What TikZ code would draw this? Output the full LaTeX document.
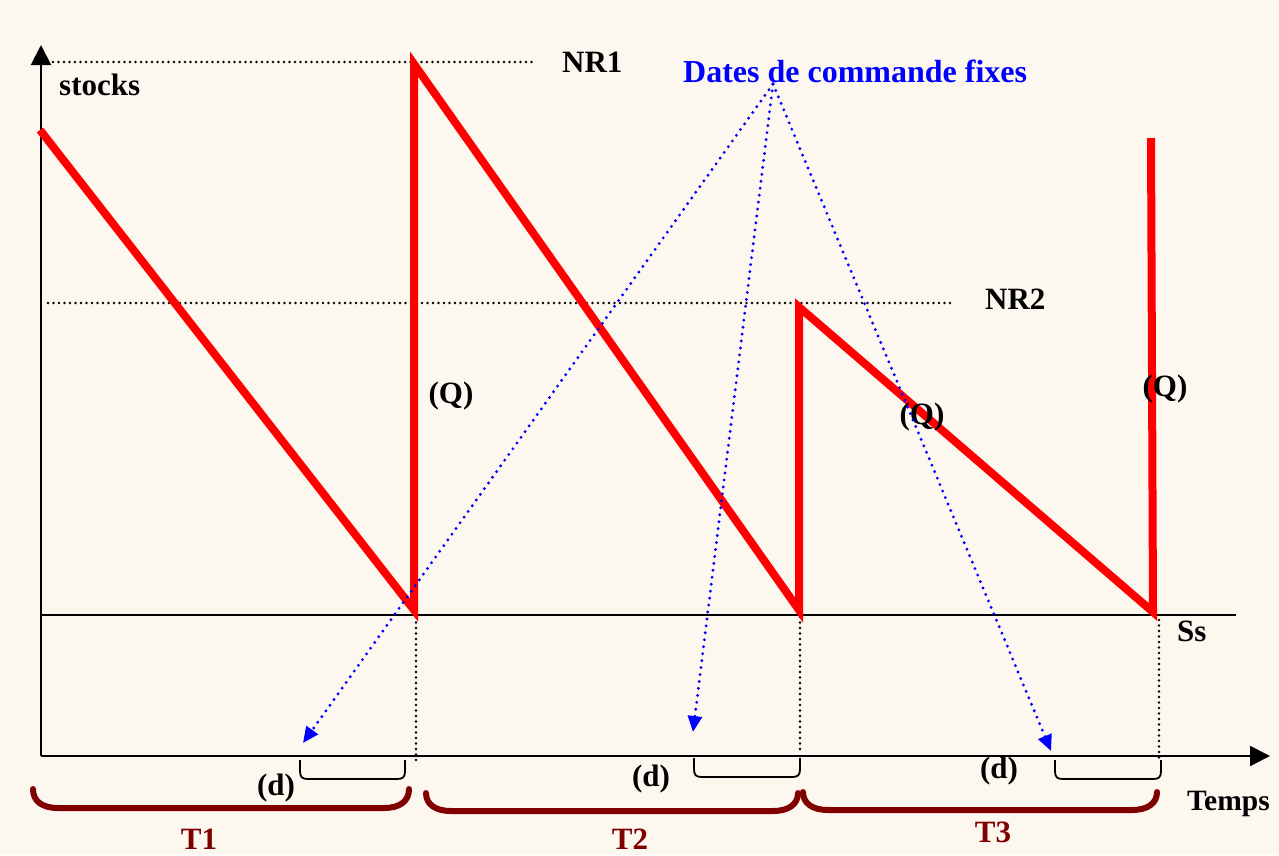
\documentclass[tikz,border=0pt]{standalone}
\usepackage{fontspec}
\setmainfont{Liberation Serif}
\usetikzlibrary{arrows.meta}
\definecolor{bg}{RGB}{252,248,240}
\definecolor{bracered}{RGB}{128,0,0}
\definecolor{stockred}{RGB}{255,0,0}
\definecolor{dateblue}{RGB}{0,0,255}
\begin{document}
\begin{tikzpicture}[x=1pt,y=-1pt,
  lbl/.style={font=\fontsize{31}{36}\selectfont\bfseries, inner sep=0pt},
  axis/.style={line width=2pt, -{Triangle[length=20pt,width=20pt]}},
  blackline/.style={line width=1.8pt},
  blackdots/.style={line width=2.6pt, line cap=round, dash pattern=on 0pt off 5.5pt},
  bluedots/.style={line width=3.2pt, line cap=round, dash pattern=on 0pt off 7pt, dateblue, -{Triangle[length=16pt,width=14pt]}},
  stockline/.style={line width=8pt, stockred, line join=miter},
  dbracket/.style={line width=1.8pt},
  bigbrace/.style={line width=6pt, bracered, line cap=round},
]
\fill[bg] (0,0) rectangle (1279,855);
\useasboundingbox (0,0) rectangle (1279,855);

% coordinates
\coordinate (origin) at (41,756);
\coordinate (ytip) at (41,45);
\coordinate (xtip) at (1270,756);
\coordinate (ssL) at (41,615);
\coordinate (ssR) at (1236,615);
\coordinate (nr1L) at (53,62);
\coordinate (nr1R) at (534,62);
\coordinate (nr2L) at (48,303);
\coordinate (nr2R) at (953,303);

% axes
\draw[axis] (origin) -- (ytip);
\draw[axis] (origin) -- (xtip);
\draw[blackline] (ssL) -- (ssR);

% dotted reference lines
\draw[blackdots] (nr1L) -- (nr1R);
\draw[blackdots] (nr2L) -- (nr2R);
\coordinate (v1a) at (416,617); \coordinate (v1b) at (416,760);
\coordinate (v2a) at (800,617); \coordinate (v2b) at (800,752);
\coordinate (v3a) at (1159,620); \coordinate (v3b) at (1159,762);
\draw[blackdots] (v1a) -- (v1b);
\draw[blackdots] (v2a) -- (v2b);
\draw[blackdots] (v3a) -- (v3b);

% stock curve
\coordinate (s0) at (40,130);
\coordinate (s1) at (414,610);
\coordinate (s2) at (414,64);
\coordinate (s3) at (799,610);
\coordinate (s4) at (799,307);
\coordinate (s5) at (1153,612);
\coordinate (s6) at (1151,138);
\draw[stockline] (s0) -- (s1) -- (s2) -- (s3) -- (s4) -- (s5) -- (s6);

% labels
\node[lbl, anchor=base west] (stocks) at (59,95) {stocks};
\node[lbl, anchor=base west] (nr1) at (562,72) {NR1};
\node[lbl, anchor=base west] (nr2) at (985,309) {NR2};
\node[lbl, anchor=base west] (ss) at (1177,641) {Ss};
\node[lbl, anchor=base west, font=\fontsize{29.5}{34}\selectfont\bfseries] (temps) at (1187,810) {Temps};
\node[lbl] (q1) at (451,396) {(Q)};
\node[lbl] (q2) at (922,417) {(Q)};
\node[lbl] (q3) at (1165,389) {(Q)};
\node[lbl, text=dateblue, anchor=base west, font=\fontsize{32}{36}\selectfont\bfseries] (dates) at (683,82) {Dates de commande fixes};

% blue arrows
\coordinate (src) at (773,84);
\coordinate (t1) at (303,743);
\coordinate (t2) at (693,732);
\coordinate (t3) at (1051,751);
\draw[bluedots] (src) -- (t1);
\draw[bluedots] (src) -- (t2);
\draw[bluedots] (src) -- (t3);

% (d) brackets
\draw[dbracket] (300,760) -- (300,771) .. controls (300,777) and (302,779) .. (308,779) -- (397,779) .. controls (403,779) and (405,777) .. (405,771) -- (405,760);
\draw[dbracket] (694,758) -- (694,769) .. controls (694,775) and (696,777) .. (702,777) -- (792,777) .. controls (798,777) and (800,775) .. (800,769) -- (800,758);
\draw[dbracket] (1055,760) -- (1055,771) .. controls (1055,777) and (1057,779) .. (1063,779) -- (1153,779) .. controls (1159,779) and (1161,777) .. (1161,771) -- (1161,760);
\node[lbl] (d1) at (276,788) {(d)};
\node[lbl] (d2) at (651,779) {(d)};
\node[lbl] (d3) at (999,771) {(d)};

% big braces
\draw[bigbrace] (33,789) .. controls (33,801) and (42,808) .. (58,808) -- (384,808) .. controls (400,808) and (409,801) .. (409,789);
\draw[bigbrace] (426,793) .. controls (426,804) and (435,811) .. (451,811) -- (773,811) .. controls (789,811) and (798,804) .. (798,793);
\draw[bigbrace] (803,792) .. controls (803,803) and (812,810) .. (828,810) -- (1132,810) .. controls (1148,810) and (1157,803) .. (1157,792);
\node[lbl, text=bracered, anchor=base] (T1) at (199,849) {T1};
\node[lbl, text=bracered, anchor=base] (T2) at (630,849) {T2};
\node[lbl, text=bracered, anchor=base] (T3) at (993,842) {T3};
\end{tikzpicture}
\end{document}
